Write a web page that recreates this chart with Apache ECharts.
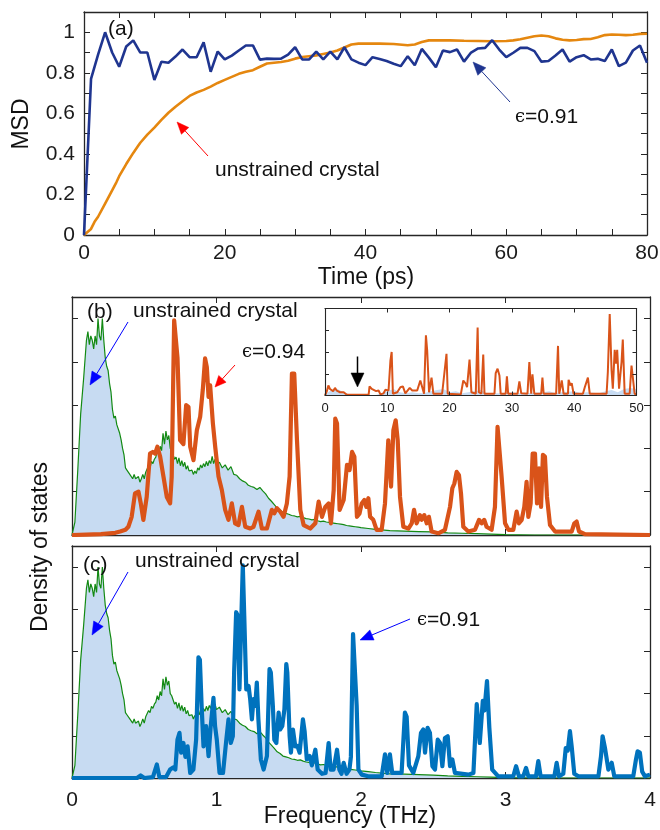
<!DOCTYPE html>
<html><head><meta charset="utf-8">
<script src="https://cdn.jsdelivr.net/npm/echarts@6/dist/echarts.min.js"></script>
<style>html,body{margin:0;padding:0;background:#fff}#c{width:660px;height:830px}</style>
</head><body><div id="c"></div>
<script>
// ---------- DATA ----------
// (a) MSD vs time (ps)
const msdTime = [0,1,2,3,4,5,6,7,8,9,10,11,12,13,14,15,16,17,18,19,20,21,22,23,24,25,26,27,28,29,30,31,32,33,34,35,36,37,38,39,40,41,42,43,44,45,46,47,48,49,50,51,52,53,54,55,56,57,58,59,60,61,62,63,64,65,66,67,68,69,70,71,72,73,74,75,76,77,78,79,80];
const msdStrained091 = [0,0.77,0.89,1.0,0.9,0.83,0.93,0.96,0.9,0.9,0.765,0.855,0.85,0.88,0.915,0.877,0.877,0.95,0.805,0.905,0.866,0.885,0.91,0.935,0.935,0.865,0.87,0.869,0.87,0.89,0.926,0.866,0.866,0.904,0.866,0.905,0.866,0.926,0.866,0.85,0.838,0.877,0.868,0.858,0.845,0.833,0.882,0.837,0.918,0.875,0.828,0.91,0.902,0.915,0.855,0.9,0.92,0.923,0.961,0.915,0.877,0.899,0.923,0.923,0.907,0.855,0.858,0.885,0.915,0.855,0.877,0.887,0.866,0.869,0.858,0.915,0.833,0.85,0.91,0.935,0.85];
const msdUnstrained = [[0,0],[1,0.03],[1.5,0.065],[2,0.09],[3,0.155],[4,0.22],[4.6,0.26],[5,0.29],[6,0.35],[7,0.405],[7.7,0.44],[8,0.455],[9,0.495],[10,0.53],[11,0.568],[12,0.603],[13,0.633],[14,0.66],[15,0.686],[16,0.703],[17,0.716],[18,0.732],[19,0.75],[20,0.765],[21,0.78],[22,0.795],[23,0.805],[24,0.813],[25,0.83],[26,0.846],[27,0.85],[28,0.853],[29,0.86],[30,0.87],[31,0.878],[32,0.882],[33,0.886],[34,0.893],[35,0.9],[36,0.91],[37,0.925],[38,0.94],[39,0.944],[40,0.944],[42,0.944],[44,0.942],[46,0.936],[47,0.94],[48,0.952],[49,0.96],[50,0.961],[52,0.96],[54,0.958],[56,0.957],[58,0.956],[60,0.957],[61,0.96],[62,0.966],[63,0.973],[64,0.98],[65,0.984],[66,0.98],[67,0.97],[68,0.963],[69,0.96],[70,0.962],[71,0.966],[72,0.967],[73,0.975],[74,0.986],[75,0.989],[76,0.988],[77,0.986],[78,0.988],[79,0.992],[80,0.993]];

// (b),(c) density of states vs frequency (THz)
const dosUnstrained = [[0,0],[0.02,0.3],[0.04,1.5],[0.06,2.8],[0.08,3.6],[0.1,4.5],[0.11,4.7],[0.12,4.4],[0.13,4.6],[0.14,4.5],[0.15,4.3],[0.16,4.6],[0.17,4.4],[0.18,5.0],[0.19,4.6],[0.2,4.5],[0.21,5.0],[0.22,4.5],[0.23,4.1],[0.24,3.9],[0.25,3.8],[0.26,3.5],[0.27,3.3],[0.28,2.9],[0.29,2.7],[0.3,2.75],[0.31,2.55],[0.32,2.55],[0.33,2.35],[0.34,2.2],[0.35,2.0],[0.36,1.85],[0.37,1.55],[0.38,1.5],[0.39,1.5],[0.4,1.4],[0.41,1.38],[0.42,1.3],[0.43,1.4],[0.44,1.3],[0.45,1.28],[0.46,1.35],[0.47,1.22],[0.48,1.3],[0.49,1.4],[0.5,1.3],[0.51,1.45],[0.52,1.42],[0.53,1.6],[0.54,1.55],[0.55,1.7],[0.56,1.65],[0.57,1.75],[0.58,1.8],[0.59,1.95],[0.6,1.85],[0.61,2.05],[0.62,1.95],[0.63,2.35],[0.64,2.1],[0.65,2.4],[0.66,2.2],[0.67,2.3],[0.68,2.0],[0.69,1.95],[0.7,1.85],[0.71,1.75],[0.72,1.8],[0.73,1.65],[0.74,1.78],[0.75,1.6],[0.76,1.72],[0.77,1.58],[0.78,1.68],[0.79,1.52],[0.8,1.6],[0.81,1.48],[0.82,1.45],[0.83,1.5],[0.84,1.4],[0.85,1.48],[0.86,1.42],[0.87,1.55],[0.88,1.5],[0.89,1.62],[0.9,1.55],[0.91,1.65],[0.92,1.58],[0.93,1.7],[0.94,1.6],[0.95,1.72],[0.96,1.65],[0.97,1.82],[0.98,1.65],[0.99,1.75],[1.0,1.62],[1.02,1.68],[1.04,1.55],[1.06,1.62],[1.08,1.5],[1.1,1.58],[1.12,1.4],[1.14,1.38],[1.16,1.3],[1.18,1.25],[1.2,1.22],[1.22,1.15],[1.24,1.12],[1.26,1.1],[1.28,1.05],[1.3,1.1],[1.32,1.02],[1.34,0.95],[1.36,0.85],[1.38,0.78],[1.4,0.7],[1.42,0.62],[1.44,0.58],[1.46,0.52],[1.48,0.5],[1.5,0.48],[1.52,0.45],[1.54,0.44],[1.56,0.42],[1.58,0.43],[1.6,0.4],[1.62,0.38],[1.64,0.37],[1.66,0.35],[1.68,0.36],[1.7,0.33],[1.72,0.31],[1.74,0.32],[1.76,0.3],[1.78,0.29],[1.8,0.28],[1.82,0.27],[1.84,0.26],[1.86,0.25],[1.88,0.24],[1.9,0.22],[1.92,0.21],[1.94,0.2],[1.96,0.19],[1.98,0.18],[2.0,0.17],[2.05,0.15],[2.1,0.13],[2.2,0.1],[2.3,0.09],[2.4,0.08],[2.5,0.07],[2.6,0.05],[2.7,0.04],[2.8,0.03],[2.9,0.02],[3.0,0.01],[3.2,0],[4.0,0]];
const dosStrain094 = [[0,0],[0.1,0.01],[0.2,0.02],[0.3,0.05],[0.333,0.08],[0.37,0.12],[0.39,0.19],[0.413,0.42],[0.436,0.96],[0.46,1.0],[0.476,0.73],[0.494,0.35],[0.517,0.88],[0.54,1.88],[0.559,1.92],[0.575,1.88],[0.591,2.04],[0.61,1.81],[0.633,1.35],[0.656,0.88],[0.679,0.73],[0.69,1.35],[0.707,4.96],[0.72,4.96],[0.73,4.1],[0.748,2.19],[0.771,2.1],[0.79,3.0],[0.806,2.96],[0.818,2.04],[0.841,1.73],[0.864,2.42],[0.887,2.73],[0.905,3.35],[0.921,4.08],[0.933,3.88],[0.945,3.19],[0.956,3.46],[0.975,2.58],[0.991,2.04],[1.014,1.35],[1.037,1.04],[1.06,0.58],[1.083,0.35],[1.106,0.73],[1.129,0.27],[1.152,0.23],[1.176,0.65],[1.199,0.19],[1.233,0.15],[1.256,0.19],[1.291,0.54],[1.314,0.15],[1.349,0.15],[1.383,0.58],[1.4,0.5],[1.418,0.62],[1.441,0.54],[1.464,0.42],[1.487,0.73],[1.506,1.35],[1.522,3.73],[1.538,3.73],[1.557,2.19],[1.58,0.58],[1.603,0.23],[1.649,0.15],[1.684,0.27],[1.707,0.77],[1.73,0.42],[1.753,0.65],[1.776,0.73],[1.792,0.27],[1.811,1.04],[1.822,2.69],[1.834,2.58],[1.852,0.58],[1.88,0.81],[1.903,1.62],[1.921,1.5],[1.938,1.92],[1.954,1.81],[1.972,0.42],[1.99,0.5],[2.005,0.73],[2.023,0.81],[2.037,0.65],[2.051,0.85],[2.063,0.42],[2.085,0.35],[2.108,0.12],[2.143,0.12],[2.166,0.73],[2.189,2.19],[2.208,1.12],[2.224,2.42],[2.24,2.65],[2.254,2.19],[2.27,0.88],[2.293,0.19],[2.328,0.15],[2.351,0.27],[2.367,0.58],[2.385,0.27],[2.408,0.46],[2.42,0.35],[2.438,0.46],[2.455,0.27],[2.47,0.42],[2.489,0.08],[2.535,0.04],[2.581,0.12],[2.616,0.65],[2.632,1.08],[2.646,1.19],[2.662,1.46],[2.678,1.38],[2.692,0.96],[2.708,0.19],[2.743,0.08],[2.789,0.12],[2.817,0.35],[2.835,0.27],[2.853,0.35],[2.869,0.19],[2.904,0.12],[2.927,0.65],[2.945,2.5],[2.957,2.5],[2.973,1.35],[2.997,0.27],[3.02,0.12],[3.054,0.12],[3.077,0.54],[3.093,0.27],[3.112,0.35],[3.13,0.65],[3.146,1.23],[3.158,0.42],[3.174,0.73],[3.188,1.88],[3.204,1.88],[3.218,0.73],[3.232,1.54],[3.246,0.65],[3.259,1.85],[3.273,1.81],[3.287,0.88],[3.308,0.23],[3.343,0.08],[3.458,0.08],[3.476,0.27],[3.492,0.31],[3.509,0.08],[3.55,0.02],[4.0,0]];
const dosStrain091 = [[0,0],[0.45,0],[0.475,0.06],[0.5,0],[0.56,0.02],[0.587,0.32],[0.605,0.02],[0.65,0.02],[0.679,0.2],[0.7,0.25],[0.715,0.2],[0.73,0.91],[0.744,1.07],[0.755,0.6],[0.771,0.83],[0.785,0.5],[0.8,0.75],[0.818,0.12],[0.84,0.2],[0.859,0.91],[0.875,2.86],[0.885,2.8],[0.897,1.71],[0.91,0.75],[0.928,1.23],[0.945,0.52],[0.96,1.23],[0.979,1.9],[0.99,1.23],[1.002,0.91],[1.021,0.12],[1.045,0.12],[1.068,0.91],[1.083,1.39],[1.099,0.83],[1.113,0.99],[1.122,2.5],[1.136,3.93],[1.148,3.85],[1.159,2.1],[1.168,3.29],[1.182,5.04],[1.192,3.85],[1.206,2.1],[1.222,2.18],[1.233,1.87],[1.245,1.39],[1.256,1.87],[1.268,1.71],[1.279,2.26],[1.29,1.39],[1.307,0.44],[1.326,0.2],[1.349,0.52],[1.367,2.58],[1.376,2.5],[1.39,1.71],[1.4,0.91],[1.414,0.83],[1.43,1.55],[1.44,1.15],[1.455,1.23],[1.47,1.63],[1.483,2.7],[1.49,2.5],[1.506,1.0],[1.515,0.6],[1.529,1.15],[1.545,0.75],[1.56,0.76],[1.575,0.6],[1.598,1.39],[1.61,1.1],[1.625,0.44],[1.645,0.52],[1.66,0.3],[1.684,0.67],[1.7,0.2],[1.73,0.1],[1.755,0.12],[1.776,0.83],[1.79,0.2],[1.81,0.2],[1.834,0.67],[1.85,0.2],[1.865,0.1],[1.88,0.36],[1.9,0.1],[1.92,0.2],[1.93,0.5],[1.945,3.41],[1.958,3.37],[1.97,1.71],[1.982,0.2],[2.005,0.08],[2.05,0.04],[2.143,0.04],[2.166,0.56],[2.182,0.12],[2.2,0.56],[2.216,0.12],[2.281,0.12],[2.304,1.55],[2.316,1.45],[2.332,0.3],[2.362,0.12],[2.397,0.52],[2.415,1.07],[2.431,1.15],[2.443,0.6],[2.461,1.19],[2.477,1.07],[2.494,0.28],[2.512,0.2],[2.531,0.91],[2.547,0.83],[2.563,0.28],[2.581,0.95],[2.6,0.99],[2.616,0.28],[2.632,0.44],[2.65,0.12],[2.743,0.08],[2.778,0.12],[2.801,1.75],[2.822,0.83],[2.843,1.83],[2.854,1.6],[2.872,2.3],[2.888,1.2],[2.908,0.2],[2.95,0.04],[3.054,0.04],[3.073,0.28],[3.093,0.04],[3.123,0.04],[3.142,0.24],[3.158,0.04],[3.211,0.04],[3.227,0.4],[3.243,0.04],[3.338,0.04],[3.354,0.36],[3.37,0.04],[3.4,0.1],[3.417,0.71],[3.431,0.65],[3.446,1.11],[3.458,0.75],[3.476,0.1],[3.504,0.04],[3.643,0.04],[3.661,0.52],[3.672,0.99],[3.689,0.7],[3.712,0.2],[3.735,0.36],[3.753,0.04],[3.884,0.04],[3.903,0.44],[3.914,0.63],[3.93,0.6],[3.946,0.15],[3.965,0.04],[4.0,0.08]];

// inset of (b): full range 0-50
const insetStrain094 = [[0,0],[0.3,0.2],[0.54,0.46],[0.8,0.3],[1.08,0.31],[1.3,0.2],[1.6,0.35],[1.9,0.22],[2.15,0.26],[2.4,0.15],[2.7,0.23],[3.0,0.15],[3.2,0.23],[3.5,0.03],[7.0,0.03],[7.15,0.42],[7.5,0.3],[7.8,0.31],[8.2,0.2],[8.6,0.23],[8.9,0.05],[9.4,0.1],[9.7,0.26],[10.2,0.23],[10.5,1.6],[10.7,2.0],[10.9,0.08],[11.6,0.15],[12.1,0.38],[12.5,0.42],[12.9,0.1],[13.6,0.35],[14.0,0.23],[14.8,0.23],[15.3,0.69],[15.6,0.69],[15.9,0.08],[16.2,2.77],[16.4,2.08],[16.7,0.15],[17.1,0.82],[17.4,0.08],[18.8,0.08],[19.5,1.92],[19.7,0.08],[21.8,0.05],[22.2,0.69],[22.6,0.54],[22.8,0.38],[23.2,1.65],[23.5,0.15],[24.2,0.08],[24.5,3.12],[24.7,0.15],[25.1,0.08],[25.4,1.88],[25.6,0.08],[27.2,0.08],[27.4,1.03],[27.7,1.23],[28.0,0.92],[28.2,0.08],[29.0,0.08],[29.2,0.88],[29.4,0.08],[30.9,0.08],[31.2,0.65],[31.5,0.1],[32.5,0.08],[32.8,1.54],[33.1,0.08],[33.3,0.97],[33.6,0.08],[34.7,0.08],[34.9,0.82],[35.1,0.08],[37.1,0.08],[37.4,2.28],[37.6,0.08],[37.9,0.08],[38.0,0.69],[38.3,0.08],[39.0,0.08],[39.1,0.72],[39.4,0.46],[39.6,0.57],[39.9,0.08],[41.4,0.08],[41.7,0.38],[42.2,0.82],[42.5,0.08],[45.2,0.08],[45.4,1.08],[45.7,3.74],[46.0,1.15],[46.2,0.31],[46.5,2.1],[46.7,1.46],[46.9,2.1],[47.2,0.31],[47.6,1.54],[47.8,2.57],[48.1,0.08],[48.9,0.08],[49.2,1.38],[49.5,1.31],[49.7,0.08],[50,0.05]];
const insetUnstrained = [[0,0.05],[1,0.25],[2,0.3],[3,0.15],[4,0.05],[5,0],[8,0],[9,0.1],[10,0.2],[11,0.3],[12,0.15],[13,0.1],[14,0.15],[15,0.1],[16,0.12],[17,0.2],[18,0.25],[19,0.3],[20,0.15],[21,0.2],[22,0.1],[23,0.15],[24,0.2],[25,0.25],[26,0.1],[28,0.1],[30,0.15],[31,0.1],[33,0.12],[35,0.15],[36,0.2],[37,0.1],[38,0.15],[40,0.2],[41,0.1],[42,0.15],[44,0.1],[45,0.2],[46,0.25],[47,0.15],[48,0.3],[49,0.35],[50,0.3]];

// tick labels
const msdXTickLabels = ['0','20','40','60','80'];
const msdYTickLabels = ['0','0.2','0.4','0.6','0.8','1'];
const freqTickLabels = ['0','1','2','3','4'];
const insetTickLabels = ['0','10','20','30','40','50'];

// ---------- CHART ----------
const FONT = '"Liberation Sans", Arial, Helvetica, sans-serif';
const AX = '#262626';
const chart = echarts.init(document.getElementById('c'), null, {renderer:'canvas'});

function lblFmt(list){ return v => { const s = String(+(+v).toFixed(3)); return list.includes(s) ? s : ''; }; }
function mkAx(gi, pos, min, max, interval, labels, opt){
  opt = opt || {};
  return {type:'value', gridIndex:gi, position:pos, min, max, interval, z: opt.z || 0,
    axisLine:{show:true, onZero:false, lineStyle:{color:AX, width:opt.lw||1.3}},
    axisTick:{show:true, inside:true, length:opt.tl||6, lineStyle:{color:AX, width:1}},
    axisLabel:{show: !!labels, margin:opt.margin||8, color:'#1a1a1a', fontSize:opt.fs||21, fontFamily:FONT,
      formatter: labels ? lblFmt(labels) : undefined, showMinLabel:true, showMaxLabel:true, hideOverlap:false},
    splitLine:{show:false}};
}
const IN = {tl:4, lw:1.1, z:8};
const xAxis = [
  mkAx(0,'bottom',0,80,5,msdXTickLabels,{margin:8}), mkAx(0,'top',0,80,5,null),
  mkAx(1,'bottom',0,4,1,null), mkAx(1,'top',0,4,1,null),
  mkAx(2,'bottom',0,4,1,freqTickLabels,{margin:12}), mkAx(2,'top',0,4,1,null),
  mkAx(3,'bottom',0,50,10,insetTickLabels,Object.assign({fs:13,margin:6},IN)), mkAx(3,'top',0,50,10,null,IN)
];
const yAxis = [
  mkAx(0,'left',0,1.1,0.1,msdYTickLabels,{margin:9}), mkAx(0,'right',0,1.1,0.1,null),
  mkAx(1,'left',0,5.5,1,null), mkAx(1,'right',0,5.5,1,null),
  mkAx(2,'left',0,5.5,1,null), mkAx(2,'right',0,5.5,1,null),
  mkAx(3,'left',0,4,1,null,IN), mkAx(3,'right',0,4,1,null,IN)
];

const grid = [
  {left:84, top:12, width:563, height:223},
  {left:72, top:297, width:578, height:238},
  {left:72, top:546, width:578, height:232},
  {left:325, top:308.5, width:311.5, height:87, show:true, backgroundColor:'#fff', borderWidth:0}
].map(g => Object.assign({containLabel:false, outerBoundsMode:'none'}, g));

const FILL = '#c7dbf2', GREEN = '#138a13';
const series = [
  {type:'line', xAxisIndex:0, yAxisIndex:0, data:msdUnstrained, showSymbol:false, symbol:'none',
   lineStyle:{color:'#e5870f', width:2.6}, z:3, animation:false},
  {type:'line', xAxisIndex:0, yAxisIndex:0, data:msdTime.map((t,i)=>[t, msdStrained091[i]]), showSymbol:false, symbol:'none',
   lineStyle:{color:'#1f3590', width:2.6}, z:4, animation:false},
  {type:'line', xAxisIndex:2, yAxisIndex:2, data:dosUnstrained, symbol:'none',
   lineStyle:{color:GREEN, width:1.2}, areaStyle:{color:FILL, opacity:1}, z:2, animation:false},
  {type:'line', xAxisIndex:2, yAxisIndex:2, data:dosStrain094, symbol:'none',
   lineStyle:{color:'#d95319', width:4.2, join:'round'}, z:3, animation:false},
  {type:'line', xAxisIndex:4, yAxisIndex:4, data:dosUnstrained, symbol:'none',
   lineStyle:{color:GREEN, width:1.2}, areaStyle:{color:FILL, opacity:1}, z:2, animation:false},
  {type:'line', xAxisIndex:4, yAxisIndex:4, data:dosStrain091, symbol:'none',
   lineStyle:{color:'#0072bd', width:4.2, join:'round'}, z:3, animation:false},
  {type:'line', xAxisIndex:6, yAxisIndex:6, data:insetUnstrained, symbol:'none',
   lineStyle:{width:0, opacity:0}, areaStyle:{color:FILL, opacity:1}, z:6, animation:false},
  {type:'line', xAxisIndex:6, yAxisIndex:6, data:insetStrain094, symbol:'none',
   lineStyle:{color:'#d95319', width:2}, z:7, animation:false}
];

// annotations
function arrow(x1,y1,x2,y2,color,w,hl,hw){
  const dx=x2-x1, dy=y2-y1, L=Math.hypot(dx,dy), ux=dx/L, uy=dy/L;
  const bx=x2-ux*hl, by=y2-uy*hl, px=-uy*hw, py=ux*hw;
  return [
    {type:'line', shape:{x1, y1, x2:bx, y2:by}, style:{stroke:color, lineWidth:w}, z:100},
    {type:'polygon', shape:{points:[[x2,y2],[bx+px,by+py],[bx-px,by-py]]}, style:{fill:color, stroke:color, lineWidth:0.5}, z:100}
  ];
}
function txt(x,y,text,size,extra){
  return Object.assign({type:'text', x, y, z:100, style:Object.assign({text, fontSize:size, fontFamily:FONT, fill:'#111',
    align:'left', verticalAlign:'middle', textAlign:'left', textVerticalAlign:'middle'}, (extra&&extra.style)||{})},
    extra ? {rotation: extra.rotation||0} : {});
}
function eps(x,y,val){
  return {type:'text', x, y, z:100, style:{text:'{e|ϵ}=' + val, fontSize:21, fontFamily:FONT, fill:'#111',
    align:'left', verticalAlign:'middle', textAlign:'left', textVerticalAlign:'middle',
    rich:{e:{fontSize:18, fontFamily:'"DejaVu Serif", serif', fill:'#111'}}}};
}
const graphic = [
  txt(108,29,'(a)',21),
  txt(215,170,'unstrained crystal',21),
  eps(515,117,'0.91'),
  ...arrow(208,156,177,122,'#ff0000',1,12,5),
  ...arrow(510,102,473,62,'#1f3590',1,13,5.5),
  txt(22,124,'MSD',23,{rotation:Math.PI/2, style:{align:'center', textAlign:'center'}}),
  txt(366,278,'Time (ps)',23,{style:{align:'center', textAlign:'center'}}),
  txt(87,312,'(b)',21),
  txt(133,311,'unstrained crystal',21),
  eps(242,352,'0.94'),
  ...arrow(128,322,90,385,'#0000ff',1,13,5.5),
  ...arrow(235,365,215,387,'#ff0000',1,11,5),
  txt(83,565,'(c)',21),
  txt(135,561,'unstrained crystal',21),
  eps(417,620,'0.91'),
  ...arrow(128,572,92,635,'#0000ff',1,13,5.5),
  ...arrow(410,619,360,640,'#0000ff',1,13,5.5),
  txt(41,547,'Density of states',23,{rotation:Math.PI/2, style:{align:'center', textAlign:'center'}}),
  txt(350,817,'Frequency (THz)',23,{style:{align:'center', textAlign:'center'}}),
  ...arrow(357.5,356.5,357.5,387,'#000000',1.5,14,6.5)
];

chart.setOption({animation:false, backgroundColor:'#fff', grid, xAxis, yAxis, series, graphic});
</script></body></html>
